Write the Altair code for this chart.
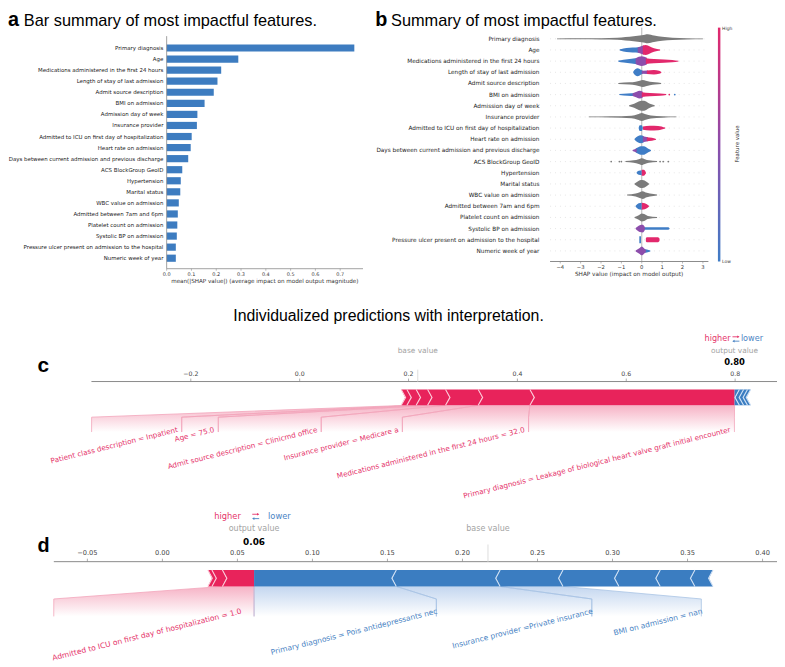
import altair as alt
import pandas as pd

# ============================ data ============================
features = [
    "Primary diagnosis", "Age", "Medications administered in the first 24 hours",
    "Length of stay of last admission", "Admit source description", "BMI on admission",
    "Admission day of week", "Insurance provider",
    "Admitted to ICU on first day of hospitalization", "Heart rate on admission",
    "Days between current admission and previous discharge", "ACS BlockGroup GeoID",
    "Hypertension", "Marital status", "WBC value on admission",
    "Admitted between 7am and 6pm", "Platelet count on admission",
    "Systolic BP on admission", "Pressure ulcer present on admission to the hospital",
    "Numeric week of year",
]
mean_abs_shap = [0.757, 0.289, 0.220, 0.205, 0.190, 0.153, 0.124, 0.122, 0.101, 0.097,
                 0.087, 0.063, 0.057, 0.055, 0.049, 0.045, 0.043, 0.041, 0.037, 0.037]
a_ticks = [0.0, 0.1, 0.2, 0.3, 0.4, 0.5, 0.6, 0.7]
a_tick_labels = ["0.0", "0.1", "0.2", "0.3", "0.4", "0.5", "0.6", "0.7"]

b_ticks = [-4, -3, -2, -1, 0, 1, 2, 3]
b_tick_labels = ["\u22124", "\u22123", "\u22122", "\u22121", "0", "1", "2", "3"]
# beeswarm envelopes: row, colour class, SHAP knots, relative point density
swarm_row = [0, 1, 1, 1, 2, 2, 2, 3, 3, 3, 4, 5, 5, 5, 6, 7, 8, 8, 9, 9, 9, 10, 10, 11,
             12, 12, 13, 14, 15, 15, 16, 17, 17, 18, 18, 19, 19]
swarm_tone = ["gray", "low", "mid", "high", "low", "mid", "high", "low", "mid", "high",
              "gray", "low", "mid", "high", "gray", "gray", "low", "high", "low", "mid",
              "high", "mid", "low", "gray", "low", "high", "gray", "gray", "low", "high",
              "gray", "mid", "low", "low", "high", "mid", "low"]
swarm_x = [
    [-4.16, -3.0, -2.0, -1.2, -0.8, -0.4, 0.0, 0.3, 0.6, 1.0, 1.5, 2.2, 3.0],
    [-1.08, -0.9, -0.6, -0.3, -0.05], [-0.2, 0.0, 0.12], [0.05, 0.2, 0.4, 0.6, 0.9],
    [-1.15, -0.9, -0.5, -0.15], [-0.3, 0.0, 0.25], [0.2, 0.6, 1.1, 1.5, 1.8],
    [-0.42, -0.32, -0.2, -0.05, 0.05], [0.0, 0.3], [0.25, 0.6, 0.85, 0.96],
    [-1.15, -0.6, -0.3, -0.1, 0.05, 0.2, 0.4, 0.65, 0.95],
    [-1.1, -0.7, -0.35], [-0.45, -0.25, -0.1, 0.05], [0.0, 0.4, 0.9, 1.2],
    [-0.62, -0.45, -0.3, -0.15, 0.0, 0.12, 0.25, 0.4, 0.63],
    [-2.6, -1.5, -0.5, -0.2, 0.0, 0.2, 0.45, 1.0, 1.7],
    [-0.15, -0.1, 0.0, 0.05], [0.06, 0.4, 0.8, 1.15],
    [-0.35, -0.2, -0.05, 0.1], [0.05, 0.3], [0.25, 0.5, 0.7],
    [-0.45, -0.25], [-0.3, -0.15, -0.05, 0.1, 0.3, 0.45],
    [-0.8, -0.4, -0.15, 0.0, 0.15, 0.35, 0.75],
    [-0.25, -0.15, 0.0], [0.0, 0.1, 0.2],
    [-0.35, -0.2, -0.05, 0.1, 0.25, 0.35],
    [-0.72, -0.3, -0.1, 0.05, 0.2, 0.4, 0.75],
    [-0.3, -0.15, 0.0], [0.0, 0.15, 0.35],
    [-0.35, -0.15, 0.0, 0.12, 0.3, 0.75],
    [-0.3, -0.1, 0.05, 0.15], [0.1, 0.6, 1.3, 1.36],
    [-0.12, -0.04], [0.2, 0.25, 0.8, 0.87],
    [-0.3, -0.1, 0.0, 0.1, 0.2], [0.1, 0.25, 0.42],
]
swarm_density = [
    [.08, .1, .12, .2, .35, .5, .7, .9, .65, .4, .22, .12, .08],
    [.12, .3, .45, .5, .6], [.5, .8, .9], [.9, 1.0, .7, .35, .1],
    [.12, .3, .5, .7], [.6, 1.0, .7], [.6, .45, .35, .25, .08],
    [.1, .6, .8, .5, .3], [.3, .35], [.35, .45, .3, .08],
    [.1, .22, .35, .55, .7, .55, .35, .22, .1],
    [.1, .25, .3], [.3, .6, .8, .6], [.5, .35, .25, .1],
    [.1, .3, .55, .85, 1.0, 1.0, .75, .4, .1],
    [.08, .12, .25, .55, .8, .55, .3, .15, .08],
    [.1, .6, .6, .1], [.35, .5, .45, .1],
    [.1, .6, .8, .6], [.6, .4], [.4, .3, .08],
    [.1, .4], [.4, .7, .85, .85, .4, .1],
    [.1, .25, .5, .7, .5, .25, .1],
    [.1, .4, .5], [.6, .6, .1],
    [.1, .5, .8, .75, .4, .1],
    [.1, .3, .6, .8, .5, .3, .1],
    [.1, .6, .7], [.7, .6, .1],
    [.1, .45, .8, .7, .3, .1],
    [.1, .7, .8, .3], [.25, .25, .25, .08],
    [.7, .7], [.3, .5, .5, .25],
    [.1, .6, .9, .6, .2], [.4, .3, .1],
]
dot_row = [5, 5, 11, 11, 11, 11, 11, 11]
dot_x = [1.35, 1.62, -1.5, -1.1, -1.0, 0.9, 1.05, 1.3]
dot_tone = ["high", "low", "gray", "gray", "gray", "gray", "gray", "gray"]

# force plot c
c_pos_bounds = [0.1865, 0.197, 0.214, 0.235, 0.268, 0.328, 0.423, 0.799]
c_neg_bounds = [0.799, 0.8078, 0.8155, 0.8227, 0.8285]
c_base_value = 0.217
c_output_value = 0.799
c_output_text = "0.80"
c_pos_labels = ["Patient class description = Inpatient", "Age = 75.0",
                "Admit source description = Clinicmd office", "Insurance provider = Medicare a",
                "Medications administered in the first 24 hours = 32.0",
                "Primary diagnosis = Leakage of biological heart valve graft initial encounter"]
c_pos_label_edges = [-0.3822, -0.2167, -0.1495, 0.0396, 0.1887, 0.4205, 0.7987]
c_pos_label_segment = [1, 2, 3, 4, 5, 6]
c_ticks = [-0.2, 0.0, 0.2, 0.4, 0.6, 0.8]
c_tick_labels = ["\u22120.2", "0.0", "0.2", "0.4", "0.6", "0.8"]

# force plot d
d_pos_bounds = [0.0303, 0.0330, 0.0400, 0.0611]
d_neg_bounds = [0.0611, 0.1559, 0.2251, 0.2670, 0.3043, 0.3318, 0.3549, 0.3670]
d_base_value = 0.217
d_output_value = 0.0611
d_output_text = "0.06"
d_pos_labels = ["Admitted to ICU on first day of hospitalization = 1.0"]
d_pos_label_edges = [-0.0724, 0.0611]
d_pos_label_segment = [2]
d_neg_labels = ["Primary diagnosis = Pois antidepressants nec",
                "Insurance provider =Private insurance", "BMI on admission = nan"]
d_neg_label_edges = [0.0611, 0.1826, 0.2862, 0.3592]
d_neg_label_segment = [0, 1, 2]
d_ticks = [-0.05, 0.0, 0.05, 0.10, 0.15, 0.20, 0.25, 0.30, 0.35, 0.40]
d_tick_labels = ["\u22120.05", "0.00", "0.05", "0.10", "0.15", "0.20", "0.25", "0.30", "0.35", "0.40"]

# ============================ layout / style ============================
OX, OY = 8, 8
W, H = 777, 659


def px(v):
    return v - OX


def py(v):
    return v - OY


DV = "DejaVu Sans"
LS = "Liberation Sans"
RED = "#e8235b"
BLUE = "#3b7dc1"
BAR_BLUE = "#3d7cc0"
RED_TXT = "#e5336a"
BLUE_TXT = "#4a84c4"
TONE = {"gray": "#7b7b7b", "low": "#3f7dc6", "mid": "#8c4dab", "high": "#e2286c"}
LABEL_ANGLE = 346
one = pd.DataFrame({"k": [0]})


def txt(s, x, y, fs, font=LS, weight="normal", color="#000", align="left",
        baseline="alphabetic", angle=0):
    return alt.Chart(one).mark_text(text=s, font=font, fontSize=fs, fontWeight=weight,
                                    color=color, align=align, baseline=baseline,
                                    angle=angle).encode(x=alt.value(x), y=alt.value(y))


def swap_arrows(x0, x1, y):
    """the small red-over-blue 'higher / lower' double arrow"""
    up, lo = y - 2.2, y + 2.2
    return [
        alt.Chart(one).mark_rule(color=RED_TXT, strokeWidth=0.9).encode(
            x=alt.value(x0), x2=alt.value(x1 - 1), y=alt.value(up)),
        alt.Chart(one).mark_point(shape="triangle-right", filled=True, size=7,
                                  color=RED_TXT, opacity=1).encode(
            x=alt.value(x1 - 1), y=alt.value(up)),
        alt.Chart(one).mark_rule(color=BLUE_TXT, strokeWidth=0.9).encode(
            x=alt.value(x0 + 1), x2=alt.value(x1), y=alt.value(lo)),
        alt.Chart(one).mark_point(shape="triangle-left", filled=True, size=7,
                                  color=BLUE_TXT, opacity=1).encode(
            x=alt.value(x0 + 1), y=alt.value(lo)),
    ]


# ============================ panel a ============================
sxA = alt.Scale(domain=[0, 0.792], range=[px(168.3), px(366.7)], nice=False, zero=False)
syA = alt.Scale(domain=features, range=[py(33.0), py(269.4)], paddingInner=0.35, paddingOuter=0.75)
XA = lambda f: alt.X(f, type="quantitative", scale=sxA, axis=None)
YA = alt.Y("feature:N", scale=syA, sort=features, axis=None)
dfA = pd.DataFrame({"feature": features, "value": mean_abs_shap})
dfAt = pd.DataFrame({"t": a_ticks, "lab": a_tick_labels})
dfAx = pd.DataFrame({"x0": [0.0], "x1": [0.792]})
panelA = alt.layer(
    alt.Chart(dfA).mark_bar(color=BAR_BLUE).encode(x=XA("value"), y=YA),
    alt.Chart(dfA).mark_text(align="right", baseline="middle", font=DV, fontSize=5.5,
                             color="#222").encode(x=alt.value(px(165)), y=YA, text="feature:N"),
    alt.Chart(dfAx).mark_rule(color="#8a8a8a", strokeWidth=0.8).encode(
        x=XA("x0"), x2="x1:Q", y=alt.value(py(268))),
    alt.Chart(dfAx).mark_rule(color="#8a8a8a", strokeWidth=0.8).encode(
        x=XA("x0"), y=alt.value(py(33)), y2=alt.value(py(268))),
    alt.Chart(dfAt).mark_rule(color="#8a8a8a", strokeWidth=0.6).encode(
        x=XA("t"), y=alt.value(py(268)), y2=alt.value(py(270))),
    alt.Chart(dfAt).mark_text(font=DV, fontSize=5, color="#333", baseline="middle").encode(
        x=XA("t"), y=alt.value(py(273.3)), text="lab:N"),
)

# ============================ panel b ============================
B_TOP, B_BOT = 24.4, 261.3
B_STEP = (B_BOT - B_TOP) / 21.0
B_HALF = 5.0
sxB = alt.Scale(domain=[-4.5, 3.27], range=[px(555.7), px(715.7)], nice=False, zero=False)
syB = alt.Scale(domain=[-1, 20], range=[py(B_TOP), py(B_BOT)], nice=False, zero=False)
XB = lambda f: alt.X(f, type="quantitative", scale=sxB, axis=None, stack=None)
YB = lambda f: alt.Y(f, type="quantitative", scale=syB, axis=None, stack=None)

sw_rows = []
for k in range(len(swarm_row)):
    r = swarm_row[k]
    for xv, dv in zip(swarm_x[k], swarm_density[k]):
        hw = dv * B_HALF / B_STEP
        sw_rows.append(dict(pid=k, tone=swarm_tone[k], x=xv, y=r - hw, y2=r + hw))
dfSw = pd.DataFrame(sw_rows)
dfDots = pd.DataFrame({"row": dot_row, "x": dot_x, "col": [TONE[t] for t in dot_tone]})
dfRowsB = pd.DataFrame({"row": list(range(20)), "x0": -4.5, "x1": 3.27, "feature": features})
dfBt = pd.DataFrame({"t": b_ticks, "lab": b_tick_labels})
dfBx = pd.DataFrame({"x0": [-4.5], "x1": [3.27], "z": [0.0]})

b_layers = [
    alt.Chart(dfRowsB).mark_rule(color="#cccccc", strokeWidth=0.5, strokeDash=[1, 4]).encode(
        x=XB("x0"), x2="x1:Q", y=YB("row")),
    alt.Chart(dfBx).mark_rule(color="#9a9a9a", strokeWidth=0.7).encode(
        x=XB("z"), y=alt.value(py(24.4)), y2=alt.value(py(260.7))),
]
for tone in ["gray", "low", "mid", "high"]:
    sub = dfSw[dfSw.tone == tone]
    b_layers.append(alt.Chart(sub).mark_area(orient="vertical", color=TONE[tone], opacity=1,
                                             interpolate="monotone").encode(
        x=XB("x"), y=YB("y"), y2="y2:Q", detail="pid:N"))
b_layers += [
    alt.Chart(dfDots).mark_circle(size=3, opacity=1).encode(
        x=XB("x"), y=YB("row"), color=alt.Color("col:N", scale=None)),
    alt.Chart(dfRowsB).mark_text(align="right", baseline="middle", font=DV, fontSize=5.8,
                                 color="#222").encode(x=alt.value(px(545)), y=YB("row"),
                                                      text="feature:N"),
    alt.Chart(dfBx).mark_rule(color="#8a8a8a", strokeWidth=1).encode(
        x=XB("x0"), x2="x1:Q", y=alt.value(py(260.7))),
    alt.Chart(dfBt).mark_rule(color="#8a8a8a", strokeWidth=0.6).encode(
        x=XB("t"), y=alt.value(py(260.7)), y2=alt.value(py(262.7))),
    alt.Chart(dfBt).mark_text(font=DV, fontSize=5.3, color="#333", baseline="middle").encode(
        x=XB("t"), y=alt.value(py(266)), text="lab:N"),
    alt.Chart(one).mark_rect(fill=alt.LinearGradient(
        gradient="linear", x1=0, x2=0, y1=0, y2=1,
        stops=[alt.GradientStop(color=TONE["high"], offset=0),
               alt.GradientStop(color=TONE["mid"], offset=0.5),
               alt.GradientStop(color=TONE["low"], offset=1)])).encode(
        x=alt.value(px(725.3)), x2=alt.value(px(727.8)),
        y=alt.value(py(24.4)), y2=alt.value(py(260.7))),
]
panelB = alt.layer(*b_layers)

# ============================ force plots ============================
CHEV_PX = 4.5
sy_pix = alt.Scale(domain=[0, H], range=[0, H], nice=False, zero=False)
YP = lambda f: alt.Y(f, type="quantitative", scale=sy_pix, axis=None, stack=None)


def bar_polys(bounds, sign, ind, ytop, ybot, tag):
    rows, seps = [], []
    ymid = (ytop + ybot) / 2
    n = len(bounds) - 1
    for i in range(n):
        a, b = bounds[i], bounds[i + 1]
        if sign > 0:
            near = i == n - 1
            lm = a + (1.0 if near else 0.9) * ind
            rm = b if near else b + 0.9 * ind
            sp = (a, a + ind)
        else:
            near = i == 0
            rm = b - (1.0 if near else 0.9) * ind
            lm = a if near else a - 0.9 * ind
            sp = (b, b - ind)
        sid = f"{tag}{i}"
        col = RED if sign > 0 else BLUE
        rows += [dict(sid=sid, col=col, y=ytop, l=a, r=b),
                 dict(sid=sid, col=col, y=ymid, l=lm, r=rm),
                 dict(sid=sid, col=col, y=ybot, l=a, r=b)]
        scol = "#fbcad8" if sign > 0 else "#cfe0f4"
        seps += [dict(sid=sid, col=scol, o=0, x=sp[0], y=ytop),
                 dict(sid=sid, col=scol, o=1, x=sp[1], y=ymid),
                 dict(sid=sid, col=scol, o=2, x=sp[0], y=ybot)]
    return rows, seps


def force_panel(dom, rng, ppu, pos_b, neg_b, base, outv, out_txt, lab_groups,
                ticks, tick_labels, g):
    sx = alt.Scale(domain=dom, range=rng, nice=False, zero=False)
    X = lambda f: alt.X(f, type="quantitative", scale=sx, axis=None, stack=None)
    ind = CHEV_PX / ppu
    off = 0.009
    polys, edges, texts = [], [], []
    for sign, txts, box_edges, segs, bounds in lab_groups:
        tone = "pos" if sign > 0 else "neg"
        for j, t in enumerate(txts):
            sa, sb = bounds[segs[j]], bounds[segs[j] + 1]
            bl, br = box_edges[j], box_edges[j + 1]
            pid = f"{tone}{j}"
            polys += [dict(pid=pid, tone=tone, y=g["bar_bot"], l=sa, r=sb),
                      dict(pid=pid, tone=tone, y=g["box_top"], l=bl, r=br),
                      dict(pid=pid, tone=tone, y=g["box_bot"], l=bl, r=br)]
            ecol = "#f2a5ba" if sign > 0 else "#a9c3e4"
            for side, bx, sxx in (("L", bl, sa), ("R", br, sb)):
                eid = pid + side
                edges += [dict(eid=eid, col=ecol, o=0, x=bx, y=g["box_bot"]),
                          dict(eid=eid, col=ecol, o=1, x=bx, y=g["box_top"]),
                          dict(eid=eid, col=ecol, o=2, x=sxx, y=g["bar_bot"])]
            texts.append(dict(t=t, col=RED_TXT if sign > 0 else BLUE_TXT,
                              x=(br - off) if sign > 0 else br))
    prow, psep = bar_polys(pos_b, 1, ind, g["bar_top"], g["bar_bot"], "p")
    nrow, nsep = bar_polys(neg_b, -1, ind, g["bar_top"], g["bar_bot"], "n")
    dfPoly = pd.DataFrame(polys)
    layers = []
    for tone, c0 in (("pos", "#f6b2c5"), ("neg", "#c3d6ef")):
        sub = dfPoly[dfPoly.tone == tone]
        if len(sub):
            layers.append(alt.Chart(sub).mark_area(
                orient="horizontal",
                fill=alt.LinearGradient(gradient="linear", x1=0, x2=0, y1=0, y2=1,
                                        stops=[alt.GradientStop(color=c0, offset=0),
                                               alt.GradientStop(color="#ffffff", offset=1)])
            ).encode(y=YP("y"), x=X("l"), x2="r:Q", detail="pid:N"))
    layers.append(alt.Chart(pd.DataFrame(edges)).mark_line(strokeWidth=0.8).encode(
        x=X("x"), y=YP("y"), detail="eid:N", order="o:Q", color=alt.Color("col:N", scale=None)))
    # axis
    dfAx = pd.DataFrame({"x0": [dom[0]], "x1": [dom[1]]})
    dfT = pd.DataFrame({"t": ticks, "lab": tick_labels})
    layers += [
        alt.Chart(dfAx).mark_rule(color="#8a8a8a", strokeWidth=1).encode(
            x=X("x0"), x2="x1:Q", y=alt.value(g["axis_y"])),
        alt.Chart(dfT).mark_rule(color="#8a8a8a", strokeWidth=0.7).encode(
            x=X("t"), y=alt.value(g["axis_y"] - 3), y2=alt.value(g["axis_y"])),
        alt.Chart(dfT).mark_text(font=DV, fontSize=g["tick_fs"], color="#444",
                                 baseline="middle").encode(
            x=X("t"), y=alt.value(g["tick_y"]), text="lab:N"),
    ]
    dfB = pd.DataFrame({"b": [base], "o": [outv]})
    layers += [
        alt.Chart(dfB).mark_rule(color="#dddddd", strokeWidth=1).encode(
            x=X("b"), y=alt.value(g["base_top"]), y2=alt.value(g["axis_y"])),
        alt.Chart(dfB).mark_text(text="base value", font=DV, fontSize=g["small_fs"],
                                 color="#a3a3a3", baseline="middle").encode(
            x=X("b"), y=alt.value(g["bv_y"])),
        alt.Chart(dfB).mark_text(text="output value", font=DV, fontSize=g["small_fs"],
                                 color="#a3a3a3", baseline="middle").encode(
            x=X("o"), y=alt.value(g["bv_y"])),
        alt.Chart(dfB).mark_text(text=out_txt, font=DV, fontSize=g["num_fs"], fontWeight="bold",
                                 color="#000", baseline="middle").encode(
            x=X("o"), y=alt.value(g["num_y"])),
    ]
    # bar
    layers.append(alt.Chart(pd.DataFrame(prow + nrow)).mark_area(orient="horizontal", opacity=1).encode(
        y=YP("y"), x=X("l"), x2="r:Q", detail="sid:N", color=alt.Color("col:N", scale=None)))
    layers.append(alt.Chart(pd.DataFrame(psep + nsep)).mark_line(strokeWidth=1.1).encode(
        x=X("x"), y=YP("y"), detail="sid:N", order="o:Q", color=alt.Color("col:N", scale=None)))
    # labels
    layers.append(alt.Chart(pd.DataFrame(texts)).mark_text(
        angle=LABEL_ANGLE, align="right", baseline="top", font=DV, fontSize=g["lab_fs"]).encode(
        x=X("x"), y=alt.value(g["lab_y"]), text="t:N", color=alt.Color("col:N", scale=None)))
    # higher / lower legend
    layers += [
        txt("higher", g["higher_x"], g["hl_y"], g["hl_fs"], font=DV, color=RED_TXT,
            align="right", baseline="middle"),
        txt("lower", g["lower_x"], g["hl_y"], g["hl_fs"], font=DV, color=BLUE_TXT,
            align="left", baseline="middle"),
        *swap_arrows(g["arrow_x"] - 3.5, g["arrow_x"] + 3.5, g["hl_y"]),
        txt(g["letter"], g["letter_x"], g["letter_y"], g["letter_fs"], weight="bold"),
    ]
    return alt.layer(*layers)


g_c = dict(axis_y=py(382), tick_y=py(374.5), bar_top=py(390), bar_bot=py(406),
           box_top=py(418), box_bot=py(433), lab_y=py(427), base_top=py(370),
           bv_y=py(351), num_y=py(362.7), hl_y=py(339), higher_x=px(738),
           arrow_x=px(743.5), lower_x=px(748.5), lab_fs=7.3, tick_fs=6.3, small_fs=7.5,
           num_fs=8.5, hl_fs=8.2, letter="c", letter_x=px(37.7), letter_y=py(372.3),
           letter_fs=21)
g_d = dict(axis_y=py(564), tick_y=py(555.7), bar_top=py(572.5), bar_bot=py(589),
           box_top=py(601.7), box_bot=py(619.3), lab_y=py(610.5), base_top=py(546.7),
           bv_y=py(531.3), num_y=py(544), hl_y=py(518.3), higher_x=px(243.3),
           arrow_x=px(258.3), lower_x=px(270.7), lab_fs=7.6, tick_fs=6.7, small_fs=8.1,
           num_fs=9, hl_fs=8.4, letter="d", letter_x=px(37.7), letter_y=py(554),
           letter_fs=20)

C_PPU, C_ZERO = 550.0, 302.7
D_PPU, D_ZERO = 1516.0, 164.0
panelC = force_panel(
    [(92.3 - C_ZERO) / C_PPU, (785 - C_ZERO) / C_PPU], [px(92.3), px(785)], C_PPU,
    c_pos_bounds, c_neg_bounds, c_base_value, c_output_value, c_output_text,
    [(1, c_pos_labels, c_pos_label_edges, c_pos_label_segment, c_pos_bounds)],
    c_ticks, c_tick_labels, g_c)
panelD = force_panel(
    [(54.3 - D_ZERO) / D_PPU, (785 - D_ZERO) / D_PPU], [px(54.3), px(785)], D_PPU,
    d_pos_bounds, d_neg_bounds, d_base_value, d_output_value, d_output_text,
    [(1, d_pos_labels, d_pos_label_edges, d_pos_label_segment, d_pos_bounds),
     (-1, d_neg_labels, d_neg_label_edges, d_neg_label_segment, d_neg_bounds)],
    d_ticks, d_tick_labels, g_d)

# ============================ titles ============================
titles = [
    txt("a", 0, 15, 20, weight="bold"),
    txt("Bar summary of most impactful features.", px(18) + 6, 15, 16.5),
    txt("b", px(379), 15, 20, weight="bold"),
    txt("Summary of most impactful features.", px(395), 15, 16.5),
    txt("mean(|SHAP value|) (average impact on model output magnitude)", px(267.5), py(280),
        5.7, font=DV, color="#333", align="center", baseline="middle"),
    txt("SHAP value (impact on model output)", px(635.5), py(273.3), 5.8, font=DV,
        color="#333", align="center", baseline="middle"),
    txt("High", px(729.5), py(25.5), 4.5, font=DV, color="#333", baseline="middle"),
    txt("Low", px(729.5), py(261.5), 4.5, font=DV, color="#333", baseline="middle"),
    txt("Feature value", px(745), py(142), 5.5, font=DV, color="#333", align="center",
        baseline="middle", angle=270),
    txt("Individualized predictions with interpretation.", px(392.5), py(321), 16,
        align="center"),
]

chart = alt.layer(panelA, panelB, panelC, panelD, *titles).resolve_scale(
    x="independent", y="independent"
).properties(
    width=W, height=H, padding=0, autosize=alt.AutoSizeParams(type="none"),
    background="white"
).configure_view(stroke=None)

chart.save("out.html", embed_options={"renderer": "svg", "actions": False})
